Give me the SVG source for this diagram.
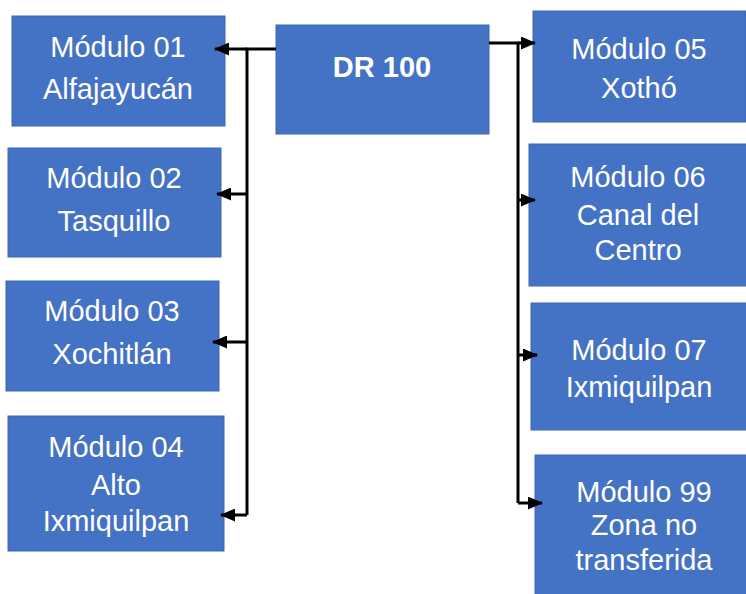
<svg xmlns="http://www.w3.org/2000/svg" width="746" height="594" viewBox="0 0 746 594">
<defs>
<style>
.box{fill:#4472C4;stroke:#3B66B4;stroke-width:1}
.t{font-family:"Liberation Sans",Arial,sans-serif;font-size:29px;fill:#ffffff;text-anchor:middle}
.b{font-weight:bold;font-size:29px}
.c{fill:none;stroke:#000;stroke-width:3;marker-end:url(#ah)}
.l{fill:none;stroke:#000;stroke-width:3}
</style>
<marker id="ah" markerUnits="userSpaceOnUse" markerWidth="15" markerHeight="13" refX="14" refY="6.5" orient="auto">
<path d="M0,0 L15,6.5 L0,13 Z" fill="#000"/>
</marker>
</defs>
<rect width="746" height="594" fill="#fff"/>
<g id="n-dr100"><rect class="box" x="276" y="25" width="213" height="109"/><text class="t b" x="382" y="77">DR 100</text></g>
<g id="n-m01"><rect class="box" x="12" y="16" width="213" height="110"/><text class="t" x="118" y="57">Módulo 01</text><text class="t" x="118" y="99">Alfajayucán</text></g>
<g id="n-m02"><rect class="box" x="8" y="148" width="213" height="109"/><text class="t" x="114" y="188">Módulo 02</text><text class="t" x="114" y="231">Tasquillo</text></g>
<g id="n-m03"><rect class="box" x="6" y="281" width="213" height="110"/><text class="t" x="112" y="321">Módulo 03</text><text class="t" x="112" y="364">Xochitlán</text></g>
<g id="n-m04"><rect class="box" x="8" y="416" width="216" height="135"/><text class="t" x="116" y="457">Módulo 04</text><text class="t" x="116" y="495">Alto</text><text class="t" x="116" y="531">Ixmiquilpan</text></g>
<g id="n-m05"><rect class="box" x="533" y="11" width="213" height="111"/><text class="t" x="639" y="59">Módulo 05</text><text class="t" x="639" y="98">Xothó</text></g>
<g id="n-m06"><rect class="box" x="529" y="144" width="218" height="142"/><text class="t" x="638" y="187">Módulo 06</text><text class="t" x="638" y="225">Canal del</text><text class="t" x="638" y="260">Centro</text></g>
<g id="n-m07"><rect class="box" x="531" y="303" width="216" height="127"/><text class="t" x="639" y="360">Módulo 07</text><text class="t" x="639" y="397">Ixmiquilpan</text></g>
<g id="n-m99"><rect class="box" x="535" y="455" width="218" height="142"/><text class="t" x="644" y="502">Módulo 99</text><text class="t" x="644" y="535">Zona no</text><text class="t" x="644" y="570">transferida</text></g>
<g id="connectors">
<path class="l" d="M276,49 L247,49 L247,515"/>
<path class="c" d="M247,49 L215,49"/>
<path class="c" d="M247,194 L217,194"/>
<path class="c" d="M247,342 L213,342"/>
<path class="c" d="M247,515 L221,515"/>
<path class="l" d="M489,43 L518,43 L518,503"/>
<path class="c" d="M518,43 L535,43"/>
<path class="c" d="M518,200 L535,200"/>
<path class="c" d="M518,355 L537,355"/>
<path class="c" d="M518,503 L542,503"/>
</g>
</svg>
